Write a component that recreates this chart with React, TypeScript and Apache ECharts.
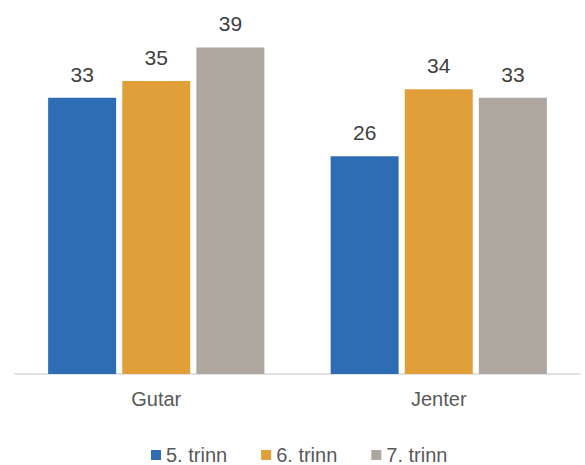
import React, { useEffect, useRef } from "react";
import * as echarts from "echarts";

const categories = ["Gutar", "Jenter"];
const seriesNames = ["5. trinn", "6. trinn", "7. trinn"];
const trinn5 = [33, 26];
const trinn6 = [35, 34];
const trinn7 = [39, 33];
const colors = ["#2E6DB4", "#E09F38", "#AEA79F"];

export default function App() {
  const ref = useRef<HTMLDivElement>(null);
  useEffect(() => {
    if (!ref.current) return;
    const chart = echarts.init(ref.current, undefined, { renderer: "svg" });
    const font = "Liberation Sans, Arial, sans-serif";
    const values = [trinn5, trinn6, trinn7];
    chart.setOption({
      animation: false,
      grid: { left: 15, right: 5, top: 39, bottom: 91, containLabel: false },
      legend: {
        top: 445,
        left: 151,
        padding: 0,
        itemWidth: 10,
        itemHeight: 10,
        itemGap: 34,
        icon: "rect",
        textStyle: { fontSize: 20, color: "#595959", fontFamily: font },
        data: seriesNames,
      },
      xAxis: {
        type: "category",
        data: categories,
        axisLine: { show: true, lineStyle: { color: "#D9D9D9", width: 1.5 } },
        axisTick: { show: false },
        axisLabel: { fontSize: 20, color: "#595959", fontFamily: font, margin: 15 },
      },
      yAxis: {
        type: "value",
        min: 0,
        max: 40,
        show: false,
        splitLine: { show: false },
      },
      series: seriesNames.map((name, i) => ({
        name,
        type: "bar",
        data: values[i],
        barWidth: 68,
        barGap: "9%",
        itemStyle: { color: colors[i] },
        label: {
          show: true,
          position: "top",
          distance: 13,
          fontSize: 21,
          color: "#404040",
          fontFamily: font,
        },
      })),
    });
    return () => chart.dispose();
  }, []);
  return <div ref={ref} style={{ width: 585, height: 465, position: "absolute", left: 0, top: 0 }} />;
}
